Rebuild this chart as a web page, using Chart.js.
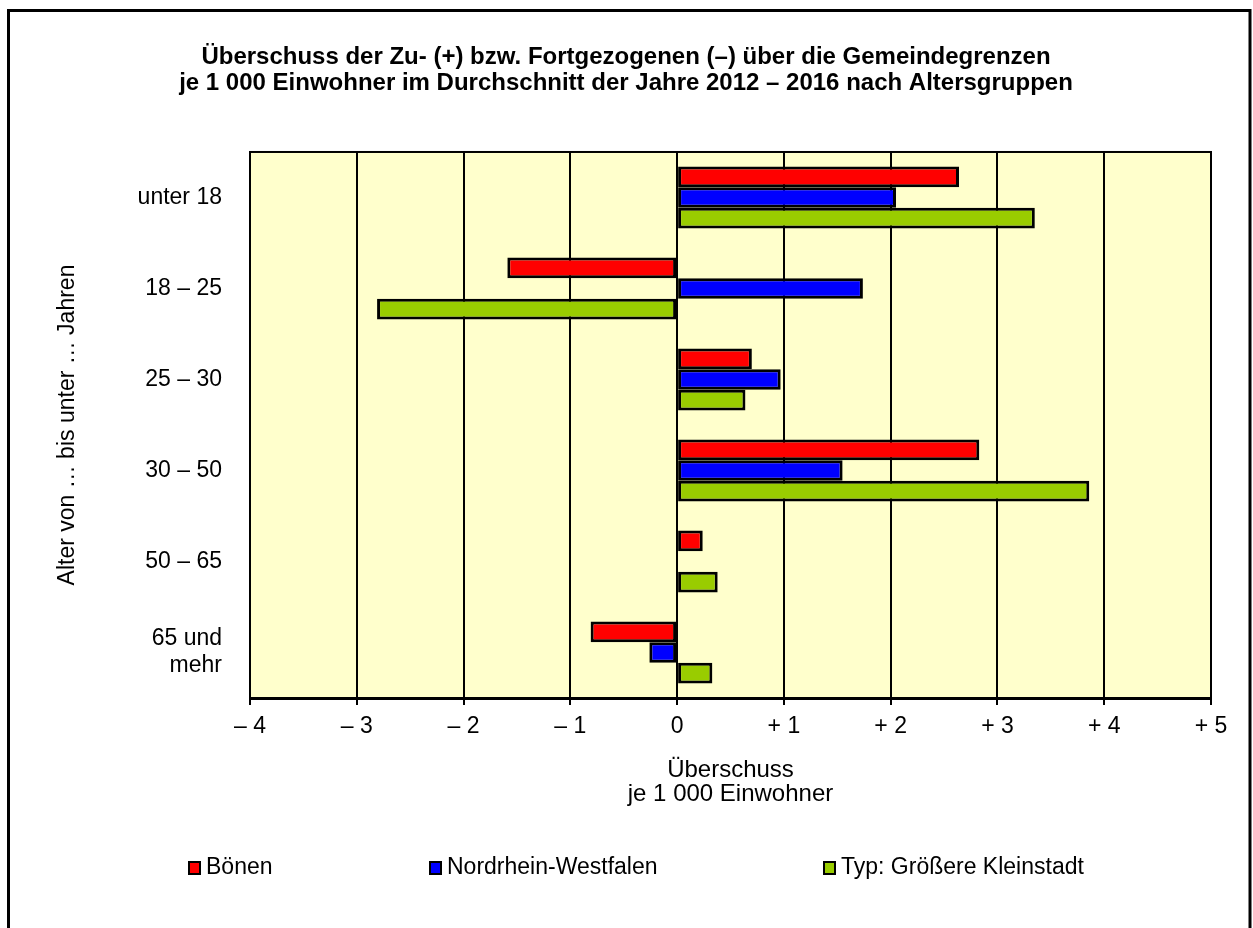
<!DOCTYPE html>
<html>
<head>
<meta charset="utf-8">
<script src="https://cdn.jsdelivr.net/npm/chart.js@4"></script>
<style>
body { margin: 0; background: #fff; }
</style>
</head>
<body>
<canvas id="chart" width="1253" height="928"></canvas>
<script>
const categories = ["unter 18", "18 – 25", "25 – 30", "30 – 50", "50 – 65", ["65 und", "mehr"]];

const boenen = [2.64, -1.59, 0.70, 2.83, 0.24, -0.81];
const nrw = [2.05, 1.74, 0.97, 1.55, 0, -0.26];
const kleinstadt = [3.35, -2.81, 0.64, 3.86, 0.38, 0.33];

const seriesNames = ["Bönen", "Nordrhein-Westfalen", "Typ: Größere Kleinstadt"];
const seriesColors = ["#ff0000", "#0000ff", "#99cc00"];

const titleLines = [
	"Überschuss der Zu- (+) bzw. Fortgezogenen (–) über die Gemeindegrenzen",
	"je 1 000 Einwohner im Durchschnitt der Jahre 2012 – 2016 nach Altersgruppen"
];

// legend is spread out like in the original, so it is drawn by hand
const legendX = [189, 430, 824];
const legendY = 868;

const fontFamily = "'Liberation Sans', Arial, sans-serif";

function formatTick(value)
{
	if(value < 0) return "– " + Math.abs(value);
	if(value > 0) return "+ " + value;
	return "0";
}

const framePlugin =
{
	id: "frame",
	beforeDraw(chart)
	{
		const { ctx, chartArea: area } = chart;
		ctx.save();
		ctx.fillStyle = "#ffffff";
		ctx.fillRect(0, 0, chart.width, chart.height);
		ctx.fillStyle = "#ffffcc";
		ctx.fillRect(area.left, area.top, area.right - area.left, area.bottom - area.top);
		ctx.restore();
	},
	afterDraw(chart)
	{
		const { ctx, chartArea: area } = chart;
		ctx.save();

		// plot border
		ctx.strokeStyle = "#000";
		ctx.lineWidth = 2;
		ctx.strokeRect(area.left, area.top, area.right - area.left, area.bottom - area.top);

		// outer frame
		ctx.lineWidth = 3;
		ctx.strokeRect(8.5, 10.5, 1241.5, 1000);

		// legend
		ctx.font = "23px " + fontFamily;
		ctx.textBaseline = "middle";
		ctx.textAlign = "left";
		chart.data.datasets.forEach((ds, i) =>
		{
			const x = legendX[i];
			ctx.fillStyle = ds.backgroundColor;
			ctx.fillRect(x, legendY - 6, 11, 12);
			ctx.lineWidth = 2;
			ctx.strokeStyle = "#000";
			ctx.strokeRect(x, legendY - 6, 11, 12);
			ctx.fillStyle = "#000";
			ctx.fillText(ds.label, x + 17, legendY);
		});

		ctx.restore();
	}
};

const seriesValues = [boenen, nrw, kleinstadt];

new Chart(document.getElementById("chart"),
{
	type: "bar",
	data:
	{
		labels: categories,
		datasets: seriesValues.map((values, i) => (
		{
			label: seriesNames[i],
			data: values,
			backgroundColor: seriesColors[i],
			borderColor: "#000",
			borderWidth: 3,
			borderSkipped: false,
			barPercentage: 1,
			categoryPercentage: 0.68
		}))
	},
	options:
	{
		indexAxis: "y",
		responsive: false,
		animation: false,
		devicePixelRatio: 1,
		font: { family: fontFamily },
		layout: { padding: { left: 41, right: 42, top: 0, bottom: 98 } },
		plugins:
		{
			legend: { display: false },
			tooltip: { enabled: false },
			title:
			{
				display: true,
				text: titleLines,
				color: "#000",
				font: { family: fontFamily, size: 24, weight: "bold", lineHeight: 1.083 },
				padding: { top: 44.5, bottom: 55.5 }
			}
		},
		scales:
		{
			x:
			{
				min: -4,
				max: 5,
				grid: { color: "#000", lineWidth: 2, tickLength: 7, drawTicks: true },
				border: { color: "#000", width: 3 },
				ticks:
				{
					stepSize: 1,
					color: "#000",
					padding: 8,
					font: { family: fontFamily, size: 23 },
					callback: value => formatTick(value)
				},
				title:
				{
					display: true,
					text: ["Überschuss", "je 1 000 Einwohner"],
					color: "#000",
					font: { family: fontFamily, size: 24, lineHeight: 1.0 },
					padding: { top: 0, bottom: 24 }
				},
				afterFit(scale) { scale.height = 132; }
			},
			y:
			{
				grid: { display: false },
				border: { display: true, color: "#000", width: 2 },
				ticks:
				{
					color: "#000",
					padding: 20,
					font: { family: fontFamily, size: 23, lineHeight: 1.17 }
				},
				title:
				{
					display: true,
					text: "Alter von … bis unter … Jahren",
					color: "#000",
					font: { family: fontFamily, size: 23 },
					padding: { top: 13, bottom: 0 }
				},
				afterFit(scale) { scale.width = 209; }
			}
		}
	},
	plugins: [framePlugin]
});
</script>
</body>
</html>
